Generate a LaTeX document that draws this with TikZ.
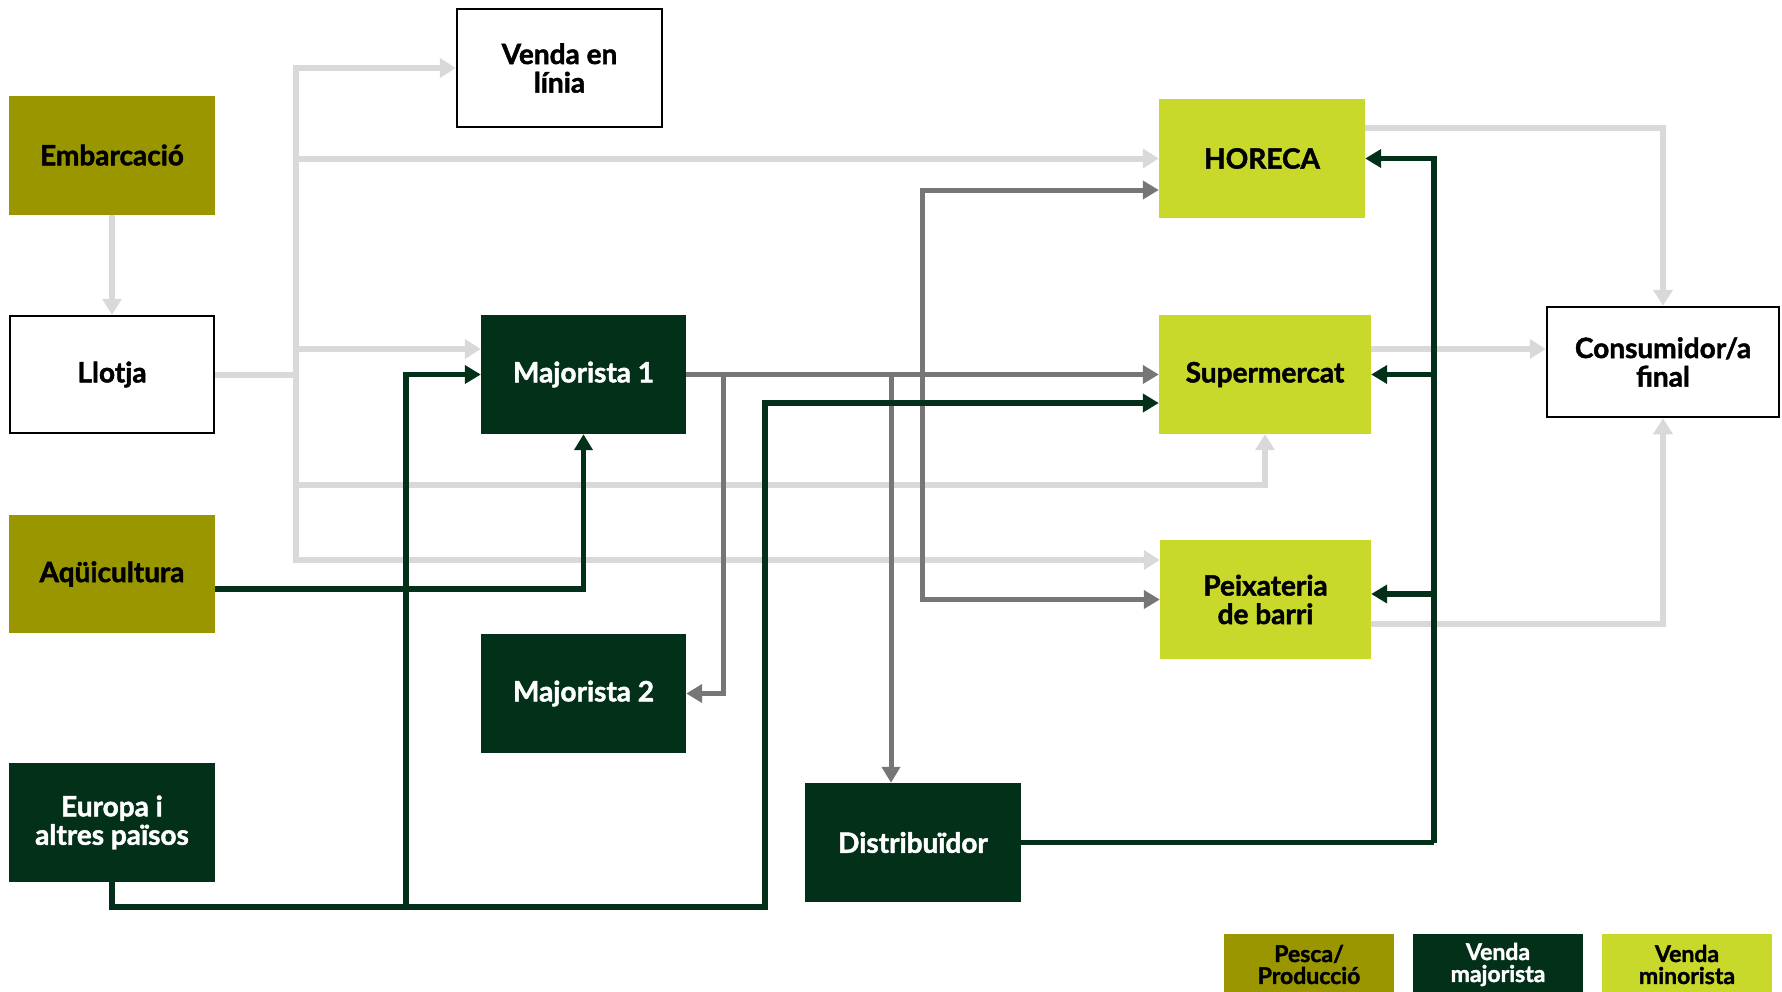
\documentclass[tikz,border=0pt]{standalone}
\usepackage{fontspec}
\setmainfont{Lato}[BoldFeatures={FakeBold=1.6}]
\usetikzlibrary{arrows.meta}
\definecolor{olivec}{RGB}{153,150,0}
\definecolor{dkgreen}{RGB}{3,48,25}
\definecolor{limec}{RGB}{200,217,43}
\definecolor{ltgray}{RGB}{217,217,217}
\definecolor{mdgray}{RGB}{120,117,118}
\begin{document}
\begin{tikzpicture}[x=1pt,y=-1pt,
  box/.style={minimum width=206pt,minimum height=119pt,inner sep=0pt,align=center,
    font=\fontsize{28}{28.5}\selectfont\bfseries},
  whitebox/.style={box,draw=black,line width=2.5pt,fill=white,text=black},
  olivebox/.style={box,fill=olivec,text=black},
  darkbox/.style={box,fill=dkgreen,text=white},
  limebox/.style={box,fill=limec,text=black},
  legendbox/.style={minimum width=170pt,minimum height=61pt,inner sep=0pt,font=\fontsize{23}{22}\selectfont\bfseries},
  lgline/.style={draw=ltgray,line width=6pt},
  lgarrow/.style={lgline,-{Triangle[length=16pt,width=19pt]}},
  gyline/.style={draw=mdgray,line width=5pt},
  gyarrow/.style={gyline,-{Triangle[length=16pt,width=18pt]}},
  dgline/.style={draw=dkgreen,line width=5.5pt},
  dgarrow/.style={dgline,-{Triangle[length=16pt,width=18pt]}}
]
\useasboundingbox (0,0) rectangle (1782,991);
\clip (0,0) rectangle (1782,991);

% nodes
\node[whitebox,minimum width=205pt,minimum height=118pt] (venda) at (559.5,68) {Venda en\\línia};
\node[olivebox] (emb) at (112,155) {Embarcació};
\node[whitebox,minimum width=204pt,minimum height=117pt] (llotja) at (112,374.5) {Llotja};
\node[darkbox,minimum width=205pt] (maj1) at (583.5,374.5) {Majorista 1};
\node[olivebox,minimum height=118pt] (aqui) at (112,574) {Aqüicultura};
\node[darkbox,minimum width=205pt] (maj2) at (583.5,693.5) {Majorista 2};
\node[darkbox] (europa) at (112,822.5) {Europa i\\altres països};
\node[darkbox,minimum width=216pt] (dist) at (913,842.5) {Distribuïdor};
\node[limebox] (horeca) at (1262,158.5) {HORECA};
\node[limebox,minimum width=212pt] (super) at (1265,374.5) {Supermercat};
\node[limebox,minimum width=211pt] (peix) at (1265.5,599.5) {Peixateria\\de barri};
\node[whitebox,minimum width=232pt,minimum height=110pt] (cons) at (1663,362) {Consumidor/a\\final};

% legend
\node[legendbox,fill=olivec,text=black,align=center] (leg1) at (1309,964.5) {Pesca/\\Producció};
\node[legendbox,fill=dkgreen,text=white,align=center] (leg2) at (1498,964.5) {Venda\\majorista};
\node[legendbox,fill=limec,text=black,align=center] (leg3) at (1687,964.5) {Venda\\minorista};

% light gray connectors
\coordinate (lj) at (296,374.5);
\coordinate (ttop) at (296,68);
\coordinate (tbot) at (296,560);
\coordinate (srow) at (296,485);
\draw[lgarrow] (emb.south) -- (llotja.north);
\draw[lgline] (llotja.east) -- (lj);
\draw[lgarrow] (tbot) |- (venda.west);
\draw[lgarrow] (ttop) |- ([yshift=39.5pt]peix.west);
\draw[lgarrow] (lj) |- (horeca.west);
\draw[lgarrow] (lj) |- ([yshift=25.5pt]maj1.west);
\draw[lgarrow] (srow) -| (super.south);
\draw[lgarrow] ([yshift=30.5pt]horeca.east) -| (cons.north);
\coordinate (se) at ([yshift=25.5pt]super.east);
\draw[lgarrow] (se) -- (se -| cons.west);
\draw[lgarrow] ([yshift=-24.5pt]peix.east) -| (cons.south);

% gray connectors
\coordinate (g1) at (723,374.5);
\coordinate (g2) at (891,374.5);
\coordinate (g3) at (922,374.5);
\draw[gyarrow] (maj1.east) -- (super.west);
\draw[gyarrow] (g1) |- (maj2.east);
\draw[gyarrow] (g2) -- (g2 |- dist.north);
\draw[gyarrow] (g3) |- ([yshift=-31.5pt]horeca.west);
\draw[gyarrow] (g3) |- (peix.west);

% dark green connectors
\coordinate (eb) at (765,907);
\coordinate (ej) at (406,907);
\coordinate (dr) at (1434,842.5);
\draw[dgarrow] ([yshift=-15pt]aqui.east) -| (maj1.south);
\draw[dgarrow] (europa.south) |- (eb) |- ([yshift=-28.5pt]super.west);
\draw[dgarrow] (ej) |- (maj1.west);
\draw[dgline] (dist.east) -- (dr);
\draw[dgarrow] (dr) |- (horeca.east);
\draw[dgarrow] (dr) |- (super.east);
\draw[dgarrow] (dr) |- ([yshift=5.5pt]peix.east);
\end{tikzpicture}
\end{document}
